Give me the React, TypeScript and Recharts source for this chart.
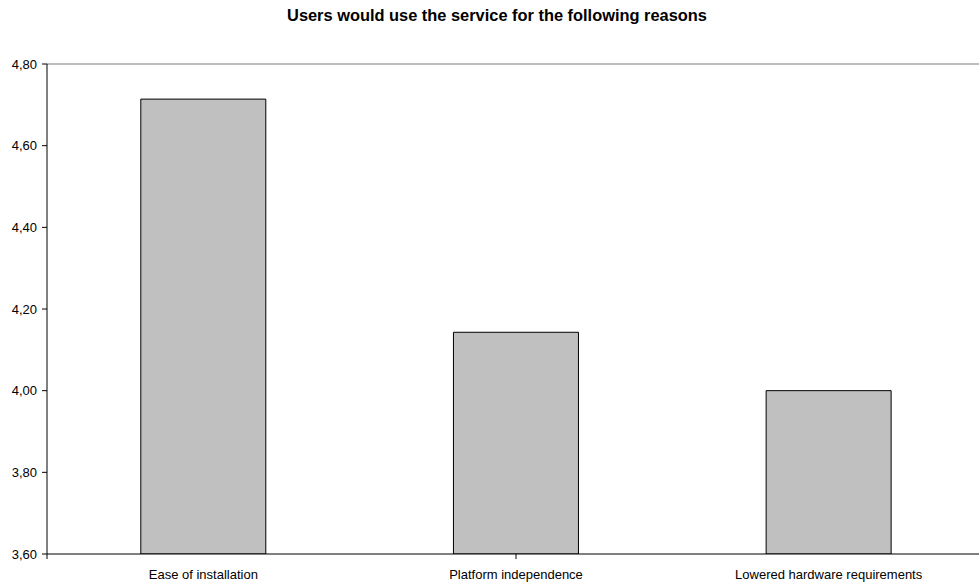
import React from "react";
import {
  BarChart,
  Bar,
  XAxis,
  YAxis,
  ReferenceLine,
} from "recharts";

const reasons = [
  "Ease of installation",
  "Platform independence",
  "Lowered hardware requirements",
];
const meanScores = [4.714, 4.143, 4.0];
const yTicks = [3.6, 3.8, 4.0, 4.2, 4.4, 4.6, 4.8];
const boundaryTicks = [0, 1, 2, 3];

const data = reasons.map((reason, i) => ({ reason, score: meanScores[i] }));

const FONT = "Arial, 'Liberation Sans', sans-serif";

export default function App() {
  return (
    <div
      style={{
        position: "absolute",
        left: 0,
        top: 0,
        width: 979,
        height: 584,
        overflow: "hidden",
        background: "#fff",
        fontFamily: FONT,
      }}
    >
      <div
        style={{
          position: "absolute",
          top: 6,
          left: 0,
          width: 994,
          textAlign: "center",
          fontWeight: "bold",
          fontSize: 16.4,
          color: "#000",
        }}
      >
        Users would use the service for the following reasons
      </div>
      <BarChart
        width={985}
        height={584}
        data={data}
        margin={{ top: 64, right: 0, bottom: 0, left: 0 }}
        barCategoryGap="30%"
      >
        <ReferenceLine
          y={4.8}
          xAxisId="cat"
          stroke="#a6a6a6"
          strokeWidth={1.5}
        />
        <YAxis
          width={47}
          domain={[3.6, 4.8]}
          ticks={yTicks}
          interval={0}
          allowDataOverflow
          axisLine={{ stroke: "#000" }}
          tickLine={{ stroke: "#000" }}
          tickSize={5}
          tickMargin={5}
          tick={{ fill: "#000", fontSize: 13, fontFamily: FONT }}
          tickFormatter={(v: number) => v.toFixed(2).replace(".", ",")}
        />
        {/* boundary tick marks between categories, sits right on the plot edge */}
        <XAxis
          type="number"
          domain={[0, 3]}
          ticks={boundaryTicks}
          interval={0}
          height={1}
          axisLine={{ stroke: "#000" }}
          tickLine={{ stroke: "#000" }}
          tickSize={5}
          tick={{ fontSize: 1 }}
          tickFormatter={() => ""}
        />
        <XAxis
          xAxisId="cat"
          dataKey="reason"
          height={29}
          axisLine={false}
          tickLine={false}
          tick={{ fill: "#000", fontSize: 13, fontFamily: FONT }}
          tickMargin={9}
          interval={0}
        />
        <Bar
          xAxisId="cat"
          dataKey="score"
          fill="#c0c0c0"
          stroke="#000"
          strokeWidth={1}
          isAnimationActive={false}
        />
      </BarChart>
    </div>
  );
}
